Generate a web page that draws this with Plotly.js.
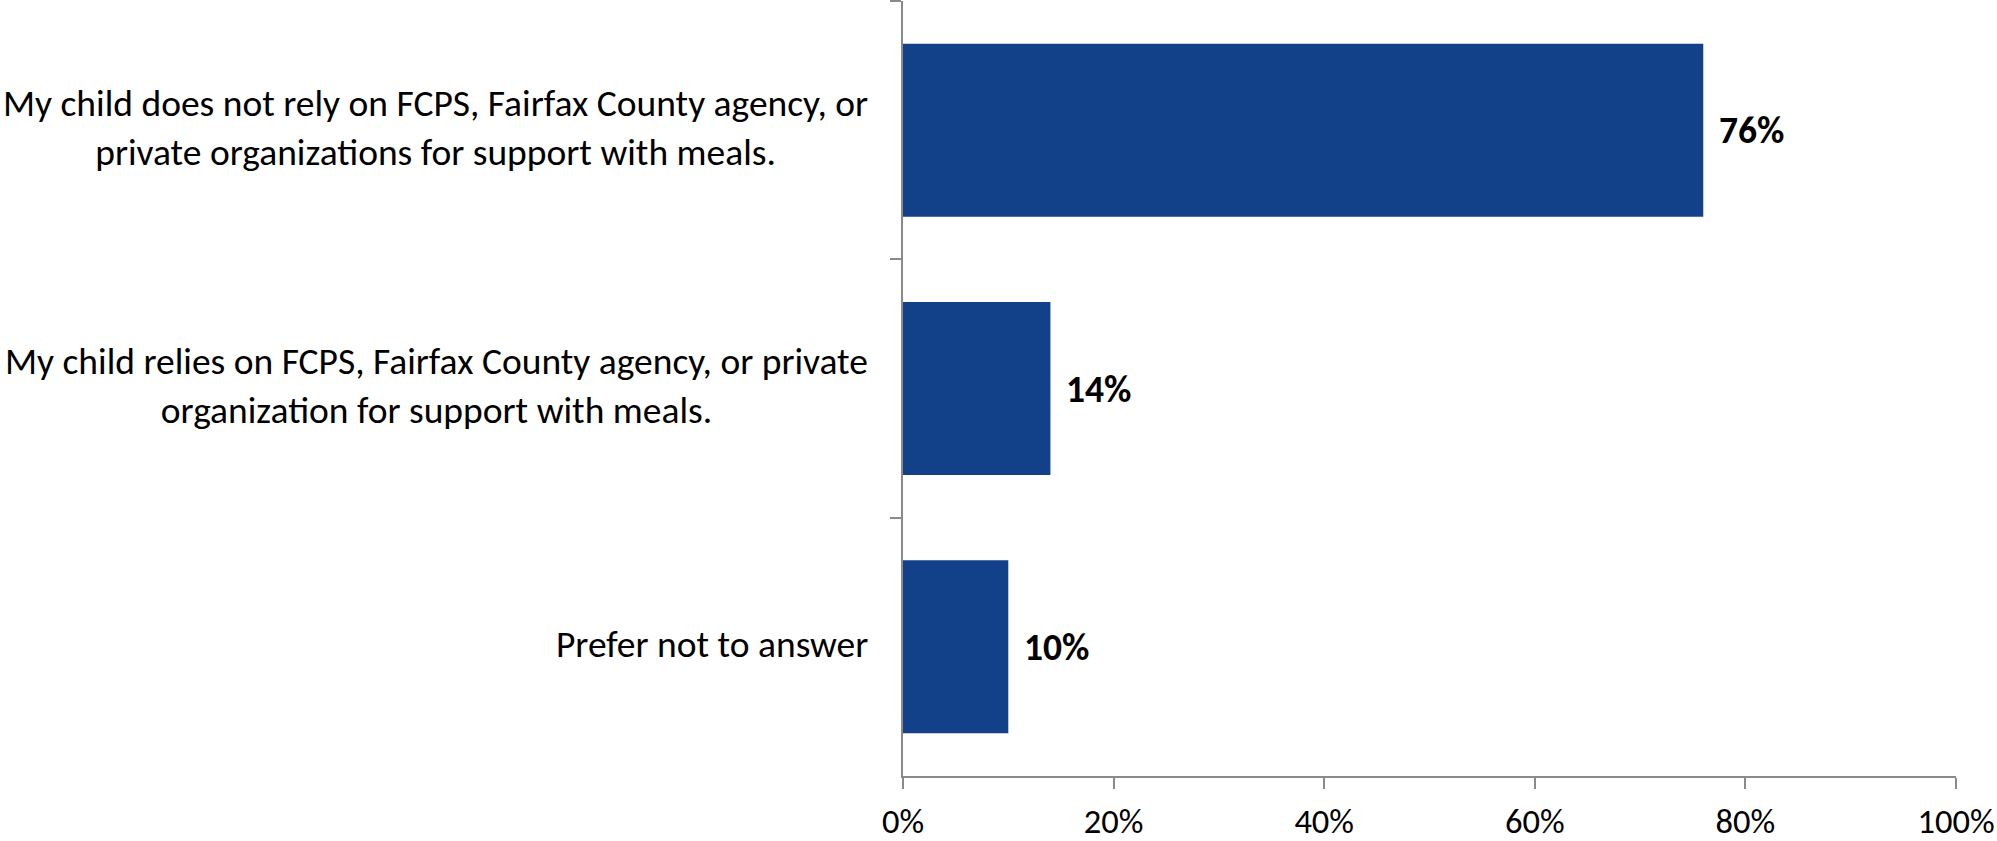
<!DOCTYPE html>
<html>
<head>
<meta charset="utf-8">
<script src="https://cdn.plot.ly/plotly-3.0.1.min.js"></script>
<style>html,body{margin:0;padding:0;background:#fff;}#chart{width:1997px;height:841px;}</style>
</head>
<body>
<div id="chart"></div>
<script>
var categories = [
  "My child does not rely on FCPS, Fairfax County agency, or<br>private organizations for support with meals.",
  "My child relies on FCPS, Fairfax County agency, or private<br>organization for support with meals.",
  "Prefer not to answer"
];
var values = [76, 14, 10];
var labels = ["76%", "14%", "10%"];
var xTicks = [0, 20, 40, 60, 80, 100];
var xTickText = ["0%", "20%", "40%", "60%", "80%", "100%"];

var FONT = "Carlito, Lato, sans-serif";
var axisColor = "#8a8a8a";

var trace = {
  type: "bar",
  orientation: "h",
  y: categories,
  x: values,
  marker: {color: "#134189", line: {width: 0}},
  hoverinfo: "none"
};

var annotations = [];
categories.forEach(function(c, i) {
  annotations.push({
    x: values[i], y: c, xref: "x", yref: "y",
    text: "<b>" + labels[i] + "</b>",
    showarrow: false, xanchor: "left", yanchor: "middle", xshift: 14,
    font: {family: FONT, size: 37.5, color: "#000"}
  });
  annotations.push({
    x: 0, y: c, xref: "paper", yref: "y",
    text: c, align: "center",
    showarrow: false, xanchor: "right", yanchor: "middle", xshift: -33, yshift: 3,
    font: {family: FONT, size: 37.5, color: "#000"}
  });
});

var layout = {
  width: 1997, height: 841,
  margin: {l: 903, r: 41, t: 1, b: 65, pad: 0},
  paper_bgcolor: "#fff", plot_bgcolor: "#fff",
  bargap: 0.33,
  showlegend: false,
  xaxis: {
    range: [0, 100],
    tickvals: xTicks, ticktext: xTickText,
    showgrid: false, zeroline: false,
    showline: true, linecolor: axisColor, linewidth: 2,
    ticks: "outside", ticklen: 11, tickwidth: 2, tickcolor: axisColor,
    ticklabelstandoff: 3,
    tickfont: {family: FONT, size: 34.5, color: "#000"},
    fixedrange: true
  },
  yaxis: {
    type: "category",
    autorange: "reversed",
    showticklabels: false,
    tickson: "boundaries",
    ticks: "outside", ticklen: 11, tickwidth: 2, tickcolor: axisColor,
    showgrid: false, zeroline: false,
    showline: true, linecolor: axisColor, linewidth: 2,
    fixedrange: true
  },
  annotations: annotations
};

Plotly.newPlot("chart", [trace], layout, {displayModeBar: false, staticPlot: true});
</script>
</body>
</html>
